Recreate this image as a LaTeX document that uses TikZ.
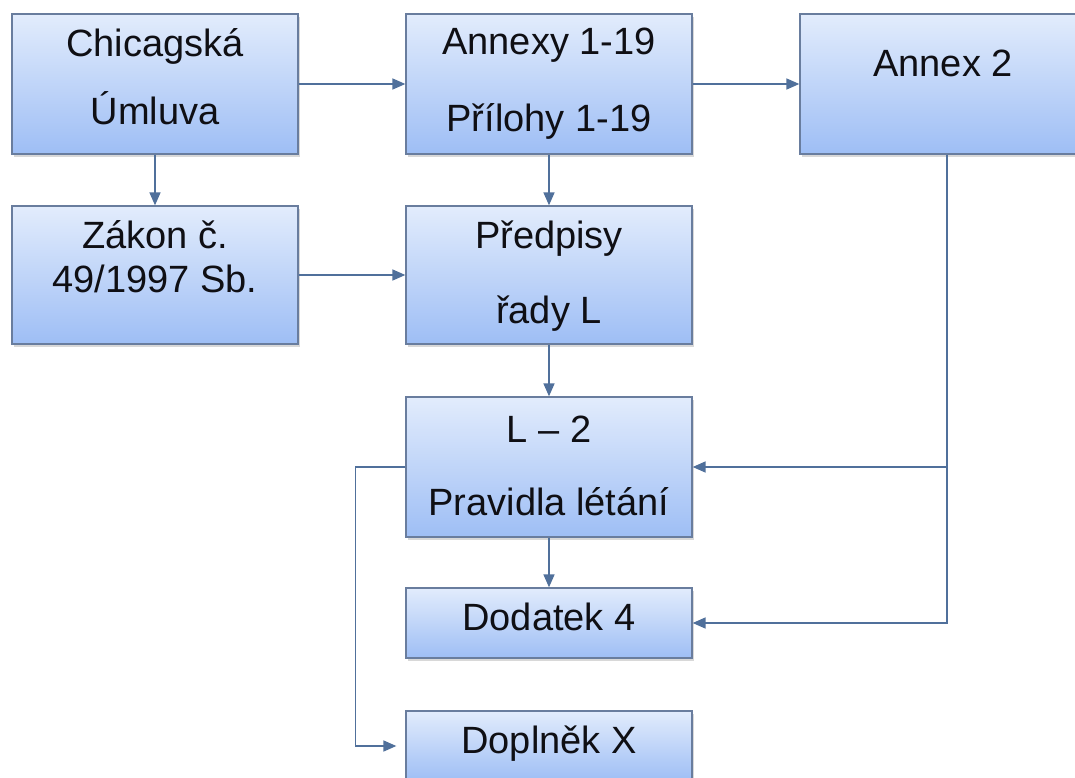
\documentclass[tikz,border=0pt]{standalone}
\usepackage{fontspec}
\setmainfont{Liberation Sans}
\usetikzlibrary{arrows.meta,shadows}
\definecolor{linecol}{RGB}{80,112,155}
\definecolor{bordercol}{RGB}{105,125,158}
\definecolor{filltop}{RGB}{226,236,252}
\definecolor{fillbot}{RGB}{158,190,245}
\definecolor{txtcol}{RGB}{15,15,20}
\tikzset{
  box/.style={draw=bordercol, line width=1.3pt, top color=filltop, bottom color=fillbot,
    inner sep=0pt, minimum width=286pt,
    drop shadow={shadow xshift=1.5pt, shadow yshift=-3pt, opacity=0.25, fill=black!60}},
  tall/.style={box, minimum height=140pt},
  short/.style={box, minimum height=70pt},
  lbl/.style={anchor=base, inner sep=0pt, text=txtcol, font=\fontsize{38}{41}\selectfont},
  conn/.style={draw=linecol, line width=1.6pt, -{Triangle[length=13pt,width=11pt]}},
}
\begin{document}
\begin{tikzpicture}[x=1pt,y=-1pt]
\clip (0,0) rectangle (1075,778);
\fill[white] (0,0) rectangle (1075,778);
% boxes
\node[tall] (chic) at (155,84) {};
\node[tall] (annexy) at (549,84) {};
\node[tall] (annex2) at (943,84) {};
\node[box, minimum height=138pt] (zakon) at (155,275) {};
\node[box, minimum height=138pt] (predpisy) at (549,275) {};
\node[tall] (ltwo) at (549,467) {};
\node[short] (dodatek) at (549,623) {};
\node[short] (doplnek) at (549,746) {};
% texts
\node[lbl] at (155,57) {Chicagská};
\node[lbl] at (155,125) {Úmluva};
\node[lbl] at (549,55) {Annexy 1-19};
\node[lbl] at (549,132) {Přílohy 1-19};
\node[lbl] at (943,77) {Annex 2};
\node[lbl] at (155,248) {Zákon č.};
\node[lbl] at (155,292) {49/1997 Sb.};
\node[lbl] at (549,248) {Předpisy};
\node[lbl] at (549,323) {řady L};
\node[lbl] at (549,442) {L – 2};
\node[lbl] at (549,515) {Pravidla létání};
\node[lbl] at (549,630) {Dodatek 4};
\node[lbl] at (549,753) {Doplněk X};
% connectors
\draw[conn] (chic.east) -- (annexy.west);
\draw[conn] (annexy.east) -- (annex2.west);
\draw[conn] (chic.south) -- (zakon.north);
\draw[conn] (zakon.east) -- (predpisy.west);
\draw[conn] (annexy.south) -- (predpisy.north);
\draw[conn] (predpisy.south) -- (ltwo.north);
\draw[conn] (ltwo.south) -- (dodatek.north);
\draw[conn] ([xshift=4pt]annex2.south) |- (ltwo.east);
\draw[conn] ([xshift=4pt]annex2.south) |- (dodatek.east);
\draw[conn, shorten >=9pt] (ltwo.west) -- ([xshift=-50pt]ltwo.west) |- (doplnek.west);
\end{tikzpicture}
\end{document}
